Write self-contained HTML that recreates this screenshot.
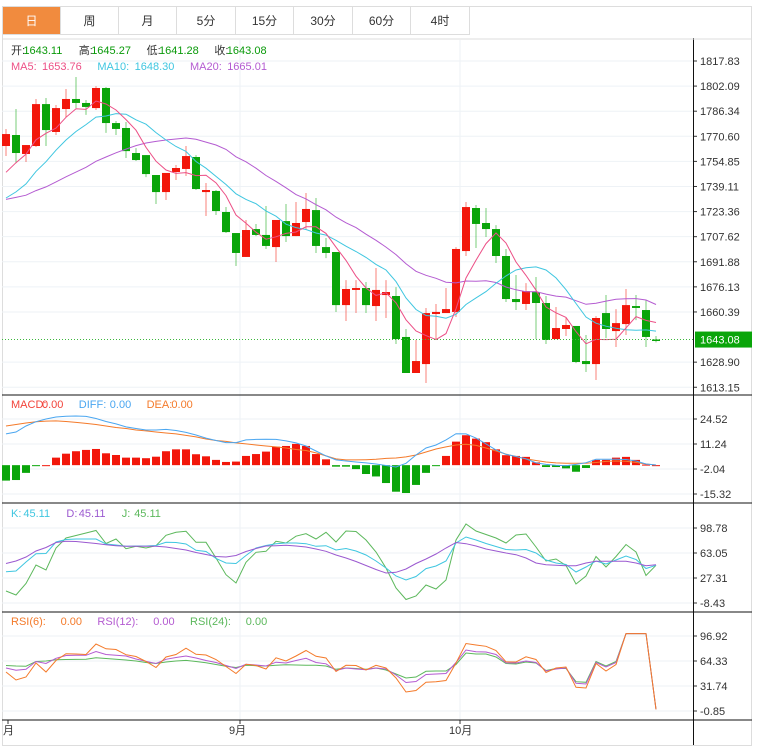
<!DOCTYPE html>
<html><head><meta charset="utf-8">
<style>
body{margin:0;background:#fff;font-family:"Liberation Sans","Noto Sans CJK SC",sans-serif;}
#wrap{position:relative;width:760px;height:755px;overflow:hidden;background:#fff}
.tab{position:absolute;top:7px;height:28px;line-height:28px;text-align:center;font-size:12px;color:#333;border-right:1px solid #ddd;border-bottom:1px solid #ddd;background:#fff;box-sizing:border-box}
.tab.on{background:#f18b3e;color:#fff}
svg text{font-family:"Liberation Sans","Noto Sans CJK SC",sans-serif}
</style></head><body>
<div id="wrap">
<div style="position:absolute;left:2px;top:6px;width:750px;height:740px;border:1px solid #ddd;box-sizing:border-box"></div>
<div class="tab on" style="left:3px;width:58px">日</div>
<div class="tab" style="left:61px;width:58px">周</div>
<div class="tab" style="left:119px;width:58px">月</div>
<div class="tab" style="left:177px;width:59px">5分</div>
<div class="tab" style="left:236px;width:58px">15分</div>
<div class="tab" style="left:294px;width:59px">30分</div>
<div class="tab" style="left:353px;width:58px">60分</div>
<div class="tab" style="left:411px;width:59px">4时</div>
<svg id="chart" width="760" height="755" style="position:absolute;left:0;top:0"></svg>
</div>
<script>
const priorCloses=[1735,1738,1732,1728,1726,1730,1733,1729,1725,1725,1722,1715,1712,1714,1716,1730,1738,1746,1754];
const opens=[1764.5,1771.4,1759.5,1764.5,1790.8,1773.3,1787.7,1794.0,1791.5,1788.3,1800.9,1778.9,1775.8,1760.1,1758.8,1746.3,1735.6,1748.2,1750.1,1757.6,1735.6,1736.3,1723.1,1709.9,1694.9,1712.4,1708.7,1701.1,1717.4,1708.0,1716.8,1724.3,1701.1,1698.0,1664.7,1674.2,1675.4,1664.1,1671.0,1670.4,1644.7,1622.1,1627.7,1659.1,1659.7,1660.4,1698.6,1725.6,1716.2,1712.4,1695.5,1668.5,1665.4,1672.9,1666.0,1643.4,1649.7,1651.6,1629.6,1627.7,1659.7,1648.4,1652.8,1664.1,1661.6,1643.11];
const highs=[1775.2,1787.7,1765.1,1794.0,1794.6,1790.2,1800.3,1807.8,1793.4,1802.1,1801.5,1780.2,1779.6,1763.2,1758.8,1746.3,1747.6,1752.6,1764.5,1758.8,1741.3,1736.9,1726.2,1709.9,1718.1,1715.6,1726.9,1718.1,1728.1,1729.4,1735.0,1731.9,1706.8,1698.0,1680.4,1680.4,1679.2,1688.0,1680.4,1676.0,1649.7,1642.8,1662.9,1665.4,1675.4,1701.1,1729.4,1727.5,1725.6,1714.9,1699.9,1683.6,1678.5,1682.3,1670.4,1663.5,1656.6,1651.6,1645.9,1657.8,1671.0,1662.2,1674.8,1671.0,1667.9,1645.27];
const lows=[1758.2,1753.8,1754.5,1763.9,1764.5,1771.4,1782.7,1788.3,1784.0,1787.1,1772.7,1771.4,1757.0,1755.1,1745.0,1728.1,1730.6,1743.2,1745.7,1736.9,1720.6,1721.2,1709.9,1689.2,1694.9,1708.0,1699.9,1691.7,1704.3,1708.0,1711.8,1697.4,1694.2,1660.4,1654.7,1659.7,1659.7,1654.7,1656.6,1640.3,1622.1,1622.1,1615.8,1642.8,1659.7,1657.2,1695.5,1700.5,1707.4,1691.1,1666.6,1661.6,1661.6,1643.4,1640.3,1643.4,1645.3,1628.3,1622.7,1617.7,1644.0,1638.4,1645.9,1655.3,1638.4,1641.28];
const closes=[1772.0,1760.1,1765.1,1790.8,1774.5,1788.3,1794.0,1791.5,1789.0,1800.9,1778.9,1775.2,1761.3,1755.7,1746.9,1735.6,1747.6,1750.7,1758.2,1737.5,1736.9,1723.7,1710.5,1697.4,1711.8,1708.7,1701.8,1718.1,1708.0,1716.2,1725.0,1701.8,1697.4,1664.7,1674.8,1675.4,1664.7,1674.2,1672.9,1643.4,1622.1,1629.6,1659.7,1660.4,1662.2,1699.9,1726.2,1715.6,1712.4,1695.5,1668.5,1666.6,1673.5,1666.0,1642.8,1650.3,1652.2,1629.0,1627.7,1656.6,1649.7,1653.4,1664.7,1662.9,1644.7,1643.08];
const macdHist=[-8.2,-7.9,-4.1,-0.4,0,4.0,6.1,7.4,8.1,8.6,6.3,5.4,4.0,4.0,3.7,4.5,7.4,8.4,8.4,5.8,4.7,2.8,1.7,1.9,4.9,5.9,7.2,9.8,10.2,11.3,10.2,5.9,3.1,-0.8,-0.8,-2.1,-4.7,-6.0,-9.5,-14.1,-14.8,-10.5,-4.1,-0.4,4.9,12.5,15.9,14.1,12.2,8.4,5.3,4.9,4.4,1.5,-1.0,-1.0,-1.7,-3.5,-1.5,2.8,2.8,4.0,4.4,2.8,0.3,0];
const difVals=[16.6,17.6,20.8,23.1,24.5,25.6,26.0,26.1,25.9,24.8,23.2,21.9,20.3,19.5,18.7,18.7,19.0,18.4,17.4,16.0,14.4,13.1,12.0,12.0,13.4,13.7,13.8,13.7,12.9,11.8,10.2,7.5,4.9,2.8,2.2,1.7,1.2,0.6,-0.2,-1.0,1.0,5.4,9.1,10.7,13.4,16.7,16.6,14.4,11.3,8.1,5.7,4.6,3.3,1.2,0.4,-0.1,-0.3,0.4,1.3,3.1,3.1,3.1,3.0,2.2,0.6,0.1];
const deaVals=[20.8,21.6,22.4,23.1,23.4,23.5,23.2,22.7,22.2,21.6,20.8,20.0,19.5,18.7,18.2,17.6,17.1,16.6,15.8,15.0,13.9,13.1,12.6,11.8,11.3,10.7,10.2,9.7,9.1,8.3,7.8,6.5,4.9,3.3,2.8,2.8,2.9,3.1,3.6,3.8,4.4,5.4,7.0,8.6,9.7,10.7,11.1,10.5,9.1,7.5,5.9,4.6,3.3,2.5,1.7,1.2,1.0,1.0,1.0,1.4,2.0,2.2,2.1,1.4,0.6,0.1];
const kVals=[36.2,37.3,50.2,62.0,62.3,78.8,82.4,83.1,83.1,83.1,75.9,74.5,72.6,73.1,73.1,73.8,78.3,78.1,75.9,66.9,65.2,55.2,48.8,48.0,59.5,70.2,73.8,76.3,77.4,77.4,76.3,72.6,73.5,67.3,69.5,65.9,60.2,51.6,41.6,30.2,24.4,29.4,40.8,44.5,51.6,77.4,85.9,81.6,76.6,72.3,68.1,67.3,68.1,63.1,53.0,48.8,46.6,35.9,43.0,51.6,47.3,53.0,58.8,53.8,40.9,45.5];
const dVals=[48.0,51.6,57.3,65.9,70.9,78.1,79.8,79.5,78.1,76.6,74.9,73.5,72.6,72.6,72.6,72.6,71.6,69.5,67.3,63.8,60.9,58.0,57.3,59.5,65.2,69.5,73.1,73.5,74.1,73.1,71.6,68.8,65.5,60.2,55.9,50.9,45.2,39.5,34.5,35.5,40.2,48.0,54.5,61.6,70.2,78.1,76.3,73.1,68.8,65.9,63.1,60.6,55.9,48.8,46.3,45.5,44.9,44.9,48.8,51.2,51.2,51.2,51.2,48.8,44.9,46.3];
const jVals=[8.7,3.0,19.4,45.9,38.7,70.2,84.5,88.1,91.7,95.2,76.6,83.1,69.2,72.6,70.2,73.5,88.4,92.6,94.1,78.3,78.3,55.9,32.0,20.2,49.8,64.1,65.5,79.8,77.4,87.0,90.6,83.1,92.6,78.8,94.5,93.8,81.6,64.5,41.6,13.0,-3.4,1.6,17.3,11.6,24.4,81.6,104.5,94.5,89.5,84.5,77.4,88.8,90.2,71.6,51.6,54.5,45.2,18.7,30.2,58.0,43.0,58.0,75.2,64.5,30.9,45.5];
const rsi6=[50.0,39.6,43.5,61.7,50.0,65.0,73.8,73.5,72.8,86.5,80.2,79.3,72.5,70.2,63.7,55.9,69.5,72.8,81.0,73.1,72.2,66.3,57.2,48.0,60.0,58.5,53.9,68.5,64.3,70.8,78.0,70.5,68.2,50.6,58.7,58.5,52.6,58.7,55.2,42.2,23.9,25.9,36.6,37.4,38.9,61.7,87.1,85.2,83.5,78.0,63.3,63.0,69.8,66.3,49.3,55.2,56.5,30.0,29.1,61.1,51.3,59.8,100,100,100,1.4];
const rsi12=[55.2,52.3,53.5,63.7,61.1,67.8,71.5,71.8,71.8,76.7,72.8,71.8,70.8,66.9,63.9,61.1,66.5,68.9,70.8,68.2,65.0,62.4,58.5,54.6,60.0,59.1,57.8,62.8,61.7,65.0,67.8,62.4,60.7,51.9,55.2,53.9,53.0,55.2,53.9,46.1,36.3,37.6,46.7,47.4,48.0,62.4,78.7,76.5,76.1,72.8,62.0,61.7,64.3,62.4,51.3,53.9,55.2,35.3,34.3,62.4,56.5,62.4,100,100,100,1.4];
const rsi24=[58.5,57.8,57.6,63.7,64.3,66.0,66.3,66.4,66.5,68.5,67.6,66.5,65.6,64.3,62.4,61.1,63.0,64.3,65.1,63.7,62.1,59.8,57.4,55.9,58.7,58.2,57.8,58.7,59.5,59.1,58.9,58.7,57.8,53.5,55.2,54.6,53.5,55.2,52.6,47.4,42.2,43.5,50.9,51.3,51.3,59.8,74.8,73.5,73.5,69.5,61.1,60.4,63.0,61.7,51.9,54.6,54.6,37.3,36.6,63.7,57.8,63.7,100,100,100,1.4];
const priceTicks=[1817.83,1802.09,1786.34,1770.60,1754.85,1739.11,1723.36,1707.62,1691.88,1676.13,1660.39,1628.90,1613.15];
const macdTicks=[24.52,11.24,-2.04,-15.32];
const kdjTicks=[98.78,63.05,27.31,-8.43];
const rsiTicks=[96.92,64.33,31.74,-0.85];
const monthLabels=[{i:0,t:"月"},{i:23,t:"9月"},{i:45,t:"10月"}];

const NS="http://www.w3.org/2000/svg";
const svg=document.getElementById('chart');
function el(tag,attrs,parent){const e=document.createElementNS(NS,tag);for(const k in attrs)e.setAttribute(k,attrs[k]);(parent||svg).appendChild(e);return e;}
const X=i=>6+10*i;
const yP=p=>61+(1817.83-p)*1.594;
const yM=v=>469-(v+2.04)*25/13.28;
const yK=v=>553-(v-63.05)*25/35.74;
const yR=v=>661-(v-64.33)*25/32.59;
const N=closes.length;
const RED="#f2170b",GRN="#0aa50a";

const defs=el('defs',{});
[['cp',40,395],['cm',396,503],['ck',504,612],['cr',613,720]].forEach(([id,a,b])=>{const c=el('clipPath',{id:id},defs);el('rect',{x:2,y:a,width:691,height:b-a},c);});

function grid(ticks,fy,name){ticks.forEach(t=>{const y=fy(t);
 const g=el('line',{x1:2,x2:693,y1:y,y2:y,stroke:'#eef2f6','stroke-width':1});
 
 el('line',{x1:693,x2:697,y1:y,y2:y,stroke:'#333'});
 const tx=el('text',{x:700,y:y+4,'font-size':11,fill:'#333'});tx.textContent=t.toFixed(2);
 });}
grid(priceTicks,yP,'price');grid(macdTicks,yM,'macd');grid(kdjTicks,yK,'kdj');grid(rsiTicks,yR,'rsi');
monthLabels.forEach(m=>{if(m.i>0){const v=el('line',{x1:X(m.i)+4,x2:X(m.i)+4,y1:40,y2:720,stroke:'#eef2f6'});}
 const t=el('text',{x:m.i>0?X(m.i)-7:3,y:734,'font-size':11,fill:'#333'});t.textContent=m.t;
 
 el('line',{x1:m.i>0?X(m.i)+4:8,x2:m.i>0?X(m.i)+4:8,y1:720,y2:724,stroke:'#333'});});

const allC=priorCloses.concat(closes);
const P=priorCloses.length;
function ma(n){return closes.map((_,i)=>{const j=i+P;let s=0;for(let k=j-n+1;k<=j;k++)s+=allC[k];return s/n;});}
function line(vals,fy,color,clip,name){let d='';vals.forEach((v,i)=>{d+=(i?'L':'M')+X(i)+','+fy(v).toFixed(1);});
 const p=el('path',{d:d,fill:'none',stroke:color,'stroke-width':1,'clip-path':'url(#'+clip+')'});
 }

const cg=el('g',{'clip-path':'url(#cp)'});
for(let i=0;i<N;i++){const up=closes[i]>=opens[i];const col=up?RED:GRN;
 const w=el('line',{x1:X(i),x2:X(i),y1:yP(highs[i]),y2:yP(lows[i]),stroke:col,'stroke-opacity':0.55},cg);
 
 const t=yP(Math.max(opens[i],closes[i])),b=yP(Math.min(opens[i],closes[i]));
 const r=el('rect',{x:X(i)-4,y:t,width:8,height:Math.max(1.5,b-t),fill:col},cg);
 }
line(ma(20),yP,'#b45bd1','cp','ma20-line');line(ma(10),yP,'#3fc6e0','cp','ma10-line');line(ma(5),yP,'#ec4f86','cp','ma5-line');
const lp=closes[N-1];
const dl=el('line',{x1:2,x2:693,y1:yP(lp),y2:yP(lp),stroke:'#3cb83c','stroke-dasharray':'1,2'});

const lb=el('rect',{x:695,y:yP(lp)-8,width:57,height:16,fill:'#0aa50a'});

const lt=el('text',{x:700,y:yP(lp)+4,'font-size':11,fill:'#fff'});lt.textContent=lp.toFixed(2);

// MACD
const mg=el('g',{'clip-path':'url(#cm)'});
macdHist.forEach((h,i)=>{const y0=yM(0),y1=yM(h);
 const r=el('rect',{x:X(i)-4,y:Math.min(y0,y1),width:8,height:Math.max(1,Math.abs(y1-y0)),fill:h>=0?RED:GRN},mg);
 });
line(deaVals,yM,'#f47a2a','cm','dea-line');line(difVals,yM,'#4aa6f0','cm','diff-line');

line(jVals,yK,'#5cb85c','ck','kdj-j-line');line(kVals,yK,'#3fc6e0','ck','kdj-k-line');line(dVals,yK,'#9b59d0','ck','kdj-d-line');

line(rsi24,yR,'#5cb85c','cr','rsi24-line');line(rsi12,yR,'#b45bd1','cr','rsi12-line');line(rsi6,yR,'#f47a2a','cr','rsi6-line');

[395,503,612,720].forEach(y=>el('line',{x1:2,x2:752,y1:y,y2:y,stroke:'#111','stroke-width':1}));
el('line',{x1:693.5,x2:693.5,y1:38,y2:745,stroke:'#111'});
el('line',{x1:2,x2:752,y1:39,y2:39,stroke:'#ddd'});

function legend(y,items,name){let x=11;const g=el('g',{});
 items.forEach(([lab,val,col,vcol])=>{const t=el('text',{x:x,y:y,'font-size':11,fill:col},g);t.textContent=lab;const w=lab.length*6.2;
 const v=el('text',{x:x+w,y:y,'font-size':11,fill:vcol||col},g);v.textContent=val;x+=w+val.length*6.2+12;});}
legend(54,[['开:','1643.11','#333','#0a9a0a'],['高:','1645.27','#333','#0a9a0a'],['低:','1641.28','#333','#0a9a0a'],['收:','1643.08','#333','#0a9a0a']],'ohlc-legend');
legend(70,[['MA5: ','1653.76','#ec4f86'],['MA10: ','1648.30','#3fc6e0'],['MA20: ','1665.01','#b45bd1']],'ma-legend');
legend(408,[['MACD:','0.00','#f2433a'],['DIFF:','0.00','#4aa6f0'],['DEA:','0.00','#f47a2a']],'macd-legend');
legend(517,[['K:','45.11','#3fc6e0'],['D:','45.11','#9b59d0'],['J:','45.11','#5cb85c']],'kdj-legend');
legend(625,[['RSI(6): ','0.00','#f47a2a'],['RSI(12): ','0.00','#b45bd1'],['RSI(24): ','0.00','#5cb85c']],'rsi-legend');
</script>
</body></html>
